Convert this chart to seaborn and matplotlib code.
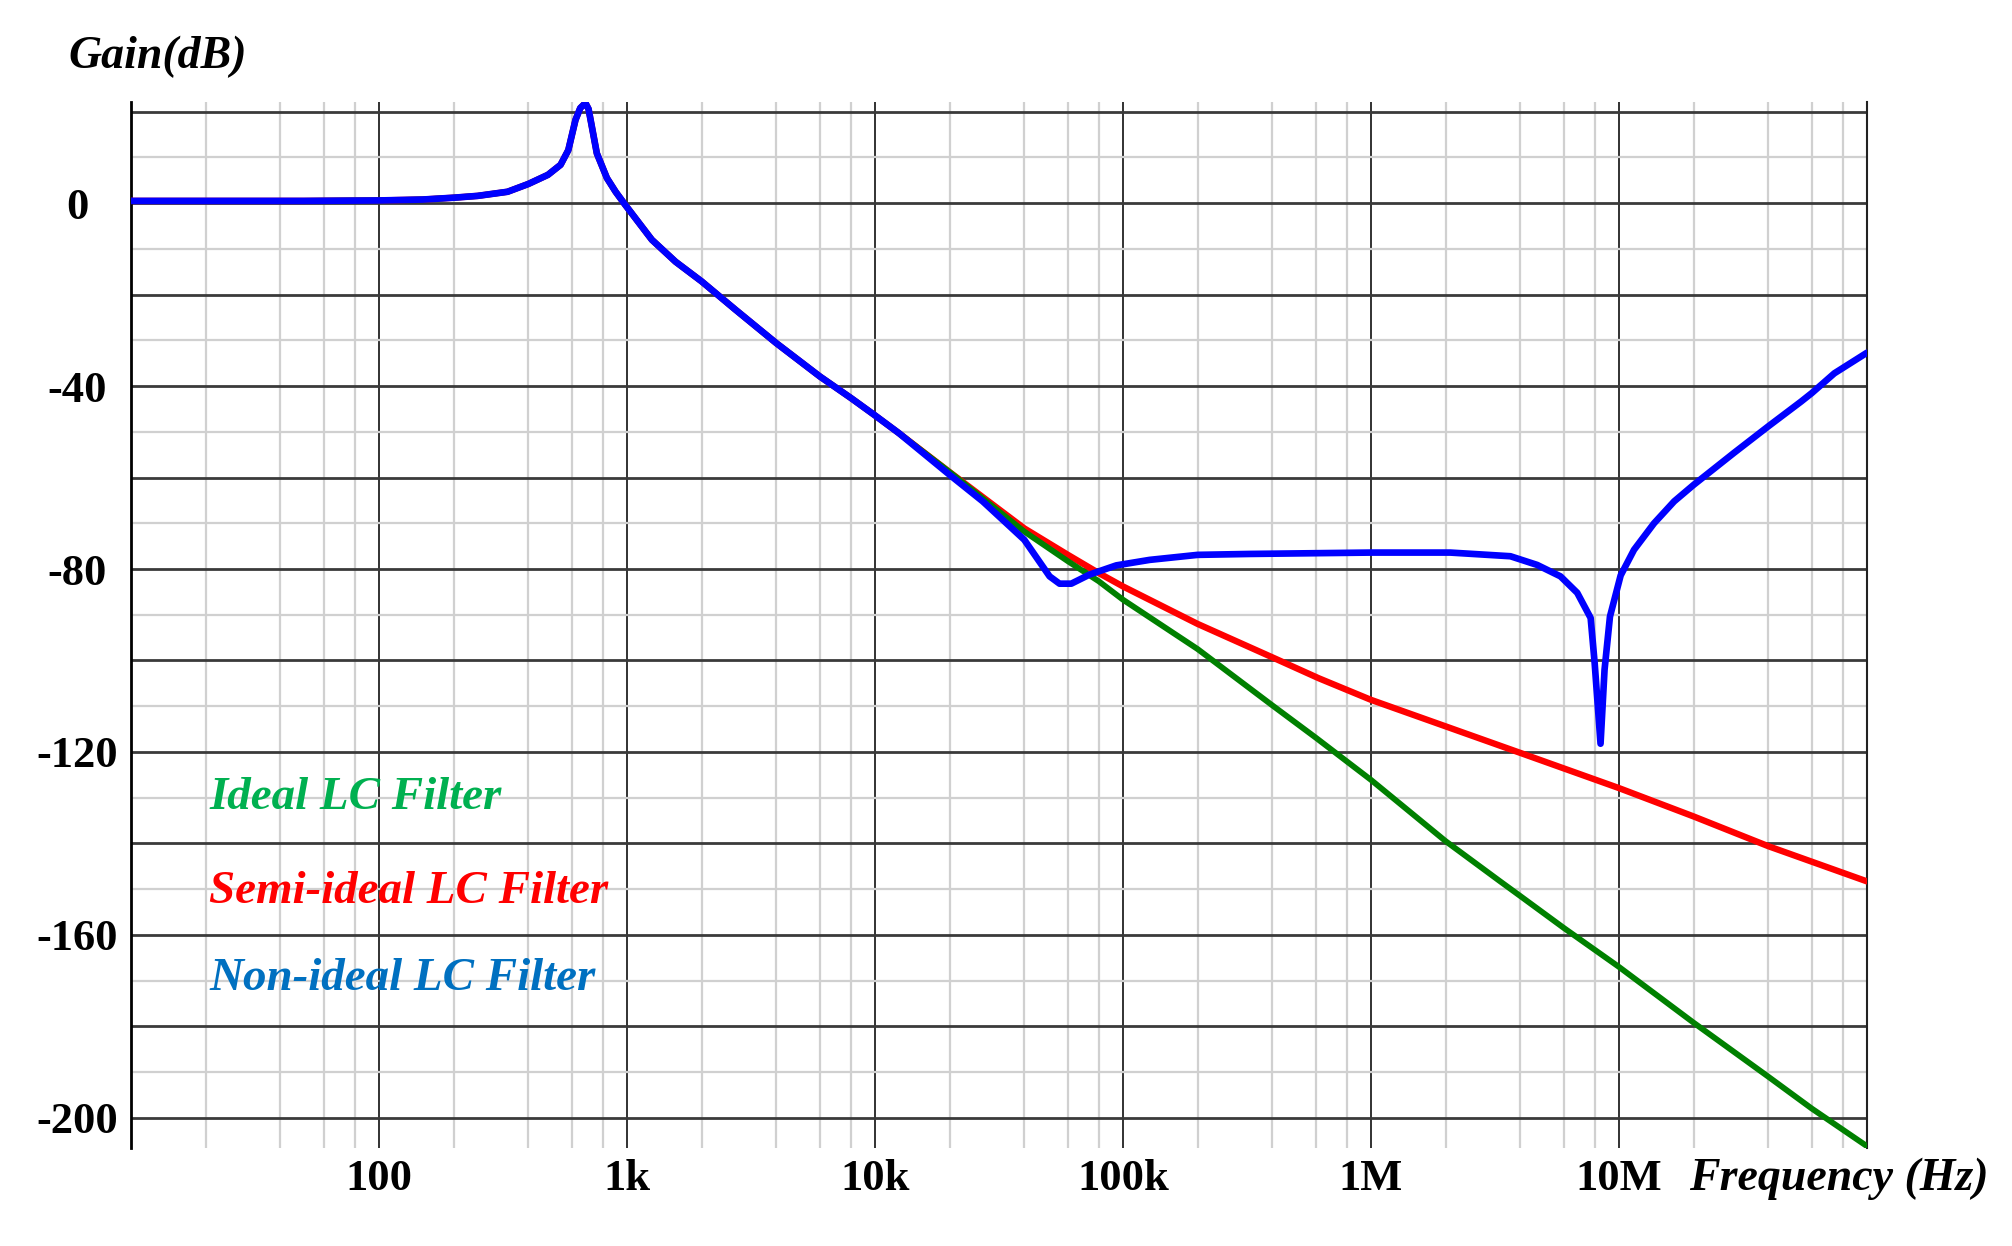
import numpy as np
import pandas as pd
import matplotlib
matplotlib.use("Agg")
import matplotlib.pyplot as plt
import matplotlib.ticker as mticker
import seaborn as sns

# Shared low-frequency part (all three filters overlap here)
shared_freq = [10, 50, 100, 150, 200, 250, 330, 400, 480, 540, 580, 620, 648, 680,
               700, 756, 830, 900, 985, 1260, 1570, 2000, 2740,
               4000, 6000, 8000, 10000, 12500]
shared_gain = [0.5, 0.5, 0.6, 0.8, 1.2, 1.6, 2.5, 4.2, 6.2, 8.4, 11.6, 18.2, 20.8, 21.9,
               20.6, 10.9, 5.5, 2.5, -0.4, -8.0, -12.8, -17.1, -23.3,
               -30.6, -37.9, -42.6, -46.4, -50.3]

# Ideal LC filter
ideal_freq = [20e3, 40e3, 60e3, 80e3, 100e3, 200e3, 400e3, 600e3, 1e6, 2e6, 3.3e6,
              4e6, 6e6, 1e7, 2e7, 4e7, 6e7, 1e8]
ideal_gain = [-58.8, -71.8, -78.3, -82.7, -86.7, -97.5, -109.8, -116.9, -126.1, -139.5,
              -148.2, -151.5, -158.5, -167.0, -179.2, -191.0, -198.0, -206.2]

# Semi-ideal LC filter
semi_freq = [20e3, 40e3, 60e3, 80e3, 100e3, 200e3, 400e3, 617e3, 1e6, 2e6,
             4e6, 1e7, 2e7, 4e7, 1e8]
semi_gain = [-58.8, -71.1, -76.9, -80.9, -83.8, -92.0, -99.3, -103.9, -108.6,
             -114.4, -120.2, -127.9, -134.1, -140.6, -148.3]

# Non-ideal LC filter
nonideal_freq = [20e3, 27.2e3, 40e3, 50.6e3, 55.5e3, 61.9e3, 73.4e3, 94e3, 128e3, 200e3,
                 325e3, 1e6, 2.09e6, 3.65e6, 4.68e6, 5.81e6, 6.79e6, 7.69e6, 7.98e6,
                 8.43e6, 8.75e6, 9.2e6, 10.16e6, 11.5e6, 13.85e6, 16.7e6, 20e6, 29.1e6,
                 40e6, 54.2e6, 60e6, 73.9e6, 100e6]
nonideal_gain = [-59.4, -65.2, -73.6, -81.6, -83.2, -83.2, -81.2, -79.2, -78.0, -76.9,
                 -76.7, -76.4, -76.4, -77.2, -79.1, -81.6, -85.2, -90.7, -100.5,
                 -118.2, -102.0, -90.4, -81.4, -75.8, -70.0, -65.2, -61.6, -54.6,
                 -48.8, -43.4, -41.5, -37.2, -32.7]

x_ticks = [10, 100, 1e3, 1e4, 1e5, 1e6, 1e7, 1e8]
x_tick_labels = ["", "100", "1k", "10k", "100k", "1M", "10M", ""]

series_names = ["Ideal LC Filter", "Semi-ideal LC Filter", "Non-ideal LC Filter"]

sns.set_theme(style="white")
plt.rcParams["font.family"] = ["Liberation Serif", "DejaVu Serif"]
plt.rcParams["text.color"] = "black"
plt.rcParams["xtick.color"] = "black"
plt.rcParams["ytick.color"] = "black"

fig = plt.figure(figsize=(20.12, 12.46), dpi=100)
ax = fig.add_axes([0.0651, 0.0783, 0.8628, 0.8401])

df_semi = pd.DataFrame({"f": shared_freq + semi_freq, "g": shared_gain + semi_gain})
df_ideal = pd.DataFrame({"f": shared_freq + ideal_freq, "g": shared_gain + ideal_gain})
df_non = pd.DataFrame({"f": shared_freq + nonideal_freq, "g": shared_gain + nonideal_gain})

sns.lineplot(data=df_semi, x="f", y="g", color="#ff0000", linewidth=4.6, ax=ax, zorder=3)
sns.lineplot(data=df_ideal, x="f", y="g", color="#008000", linewidth=4.2, ax=ax, zorder=4)
sns.lineplot(data=df_non, x="f", y="g", color="#0000ff", linewidth=4.8, ax=ax, zorder=5)

ax.set_xscale("log")
ax.set_xlim(10, 1e8)
ax.set_ylim(-206.7, 22.2)

ax.set_xticks(x_ticks)
ax.set_xticklabels(x_tick_labels)
ax.xaxis.set_minor_locator(mticker.LogLocator(base=10, subs=[2, 4, 6, 8], numticks=30))
ax.xaxis.set_minor_formatter(mticker.NullFormatter())

ax.yaxis.set_major_locator(mticker.MultipleLocator(20))
ax.yaxis.set_minor_locator(mticker.MultipleLocator(10))
ax.yaxis.set_major_formatter(mticker.FuncFormatter(
    lambda v, p: f"{int(round(v))}" if int(round(v)) % 40 == 0 and v <= 0 else ""))

ax.set_axisbelow(True)
ax.grid(which="minor", axis="both", color="#d0d0d0", linewidth=1.6)
ax.grid(which="major", axis="x", color="#222222", linewidth=1.3)
ax.grid(which="major", axis="y", color="#3a3a3a", linewidth=2.0)

for side in ["top", "bottom"]:
    ax.spines[side].set_visible(False)
ax.spines["left"].set_color("black")
ax.spines["left"].set_linewidth(2.0)
ax.spines["right"].set_color("#222222")
ax.spines["right"].set_linewidth(1.5)

ax.tick_params(axis="x", which="both", length=0, pad=7.8, labelsize=32, labelcolor="black")
ax.tick_params(axis="y", which="major", length=0, pad=38.5, labelsize=32, labelcolor="black")
ax.tick_params(axis="y", which="minor", length=0)
for lab in ax.get_xticklabels() + ax.get_yticklabels():
    lab.set_fontweight("bold")
for lab in ax.get_yticklabels():
    lab.set_horizontalalignment("center")

ax.set_xlabel("")
ax.set_ylabel("")

fig.text(0.0338, 0.9452, "Gain(dB)", fontsize=33, fontweight="bold",
         fontstyle="italic", va="baseline", ha="left", color="black")
fig.text(0.8393, 0.0449, "Frequency (Hz)", fontsize=33, fontweight="bold",
         fontstyle="italic", va="baseline", ha="left", color="black")

legend_colors = ["#00b050", "#ff0000", "#0070c0"]
legend_y = [0.3507, 0.2753, 0.2055]
for name, c, yy in zip(series_names, legend_colors, legend_y):
    fig.text(0.1041, yy, name, fontsize=33.8, fontweight="bold", fontstyle="italic",
             color=c, va="baseline", ha="left")

fig.savefig("out.png", dpi=100)
